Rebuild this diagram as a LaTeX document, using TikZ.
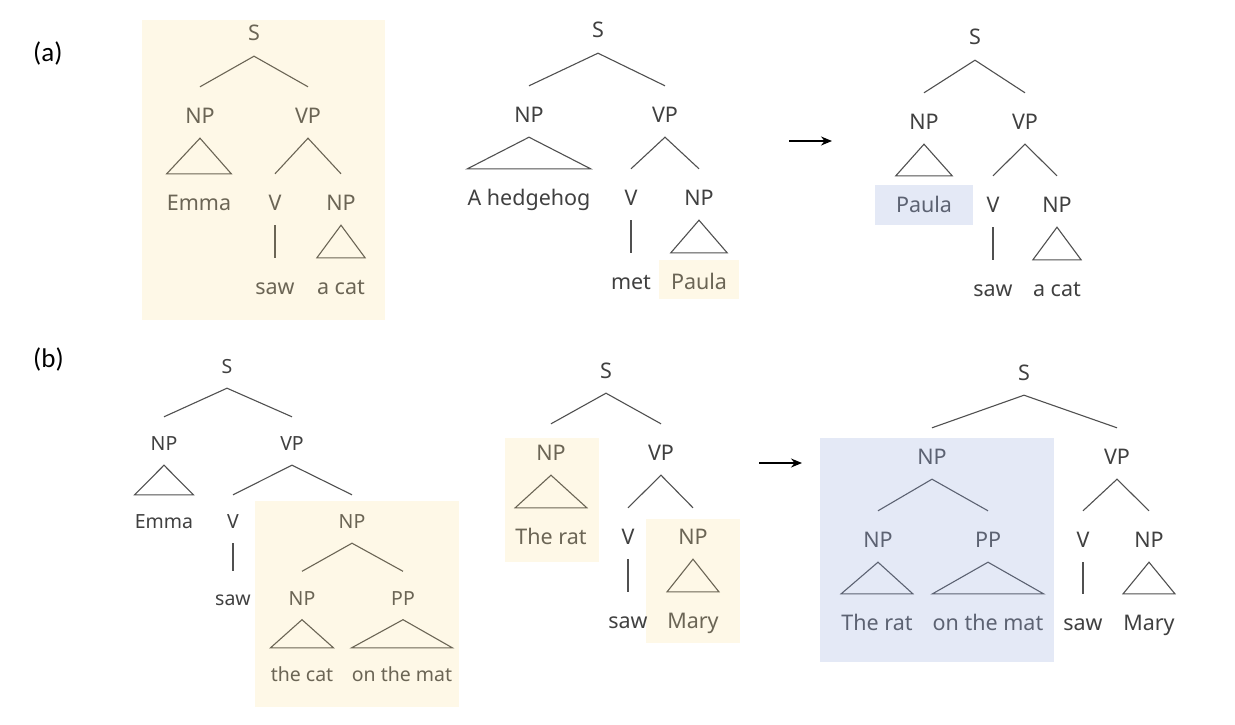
\documentclass[tikz,border=0pt]{standalone}
\usepackage{fontspec}
\setmainfont{Noto Sans}
\newfontfamily\labfont{Carlito}
\usetikzlibrary{arrows.meta}
\definecolor{txt}{HTML}{404040}
\definecolor{ln}{HTML}{505050}
\definecolor{ty}{HTML}{6B6555}
\definecolor{tb}{HTML}{5C6272}
\definecolor{yel}{HTML}{FEF8E7}
\definecolor{blu}{HTML}{E4E9F6}
\tikzset{
  la/.style={font=\fontsize{21.5}{21.5}\selectfont, text=txt, inner sep=0pt, text height=36pt, text depth=15pt, anchor=base},
  lb/.style={font=\fontsize{19.5}{19.5}\selectfont, text=txt, inner sep=0pt, text height=33.5pt, text depth=14.5pt, anchor=base},
  br/.style={draw=ln, line width=1.1pt, line join=miter},
  inY/.style={text=ty},
  inB/.style={text=tb},
  brY/.style={br, draw=ty},
  brB/.style={br, draw=tb},
  arr/.style={draw=black, line width=1.2pt, -{Stealth[length=11pt,width=9pt]}},
  panel/.style={font=\labfont\fontsize{27}{27}\selectfont, text=black, inner sep=0pt, anchor=base west}
}
\begin{document}
\begin{tikzpicture}[x=1pt,y=-1pt]
\useasboundingbox (0,0) rectangle (1235,725);
\fill[white] (0,0) rectangle (1235,725);

% highlight boxes
\fill[yel] (142,20) rectangle (385,320);
\fill[yel] (659,260) rectangle (739,299);
\fill[blu] (875,185) rectangle (973,225);
\fill[yel] (255,501) rectangle (459,707);
\fill[yel] (505,438) rectangle (599,562);
\fill[yel] (646,519) rectangle (740,643);
\fill[blu] (820,438) rectangle (1054,662);

% panel labels
\node[panel] (pa) at (33,62) {(a)};
\node[panel] (pb) at (33,367) {(b)};

% ---------- (a) tree 1 ----------
\node[la,inY] (a1S) at (254,41) {S};
\node[la,inY] (a1NP) at (200,123) {NP};
\node[la,inY] (a1VP) at (308,123) {VP};
\node[la,inY] (a1Emma) at (199,210) {Emma};
\node[la,inY] (a1V) at (275,210) {V};
\node[la,inY] (a1NPb) at (341,210) {NP};
\node[la,inY] (a1saw) at (275,294) {saw};
\node[la,inY] (a1cat) at (341,294) {a cat};
\draw[brY] (a1NP.north) -- (a1S.south) -- (a1VP.north);
\draw[brY] (a1Emma.north west) -- (a1NP.south) -- (a1Emma.north east) -- cycle;
\draw[brY] (a1V.north) -- (a1VP.south) -- (a1NPb.north);
\draw[brY] (a1V.south) -- (a1saw.north);
\draw[brY] (a1cat.north west) -- (a1NPb.south) -- (a1cat.north east) -- cycle;

% ---------- (a) tree 2 ----------
\node[la] (a2S) at (598,38) {S};
\node[la] (a2NP) at (529,122) {NP};
\node[la] (a2VP) at (665,122) {VP};
\node[la] (a2hh) at (529,205) {A hedgehog};
\node[la] (a2V) at (631,205) {V};
\node[la] (a2NPb) at (699,205) {NP};
\node[la] (a2met) at (631,289) {met};
\node[la,inY] (a2Paula) at (699,289) {Paula};
\draw[br] (a2NP.north) -- (a2S.south) -- (a2VP.north);
\draw[br] (a2hh.north west) -- (a2NP.south) -- (a2hh.north east) -- cycle;
\draw[br] (a2V.north) -- (a2VP.south) -- (a2NPb.north);
\draw[br] (a2V.south) -- (a2met.north);
\draw[br] (a2Paula.north west) -- (a2NPb.south) -- (a2Paula.north east) -- cycle;

% arrow (a)
\coordinate (arA1) at (789,141);
\coordinate (arA2) at (832,141);
\draw[arr] (arA1) -- (arA2);

% ---------- (a) tree 3 ----------
\node[la] (a3S) at (975,45) {S};
\node[la] (a3NP) at (924,129) {NP};
\node[la] (a3VP) at (1025,129) {VP};
\node[la,inB] (a3Paula) at (924,212) {Paula};
\node[la] (a3V) at (993,212) {V};
\node[la] (a3NPb) at (1057,212) {NP};
\node[la] (a3saw) at (993,296) {saw};
\node[la] (a3cat) at (1057,296) {a cat};
\draw[br] (a3NP.north) -- (a3S.south) -- (a3VP.north);
\draw[br] (a3Paula.north west) -- (a3NP.south) -- (a3Paula.north east) -- cycle;
\draw[br] (a3V.north) -- (a3VP.south) -- (a3NPb.north);
\draw[br] (a3V.south) -- (a3saw.north);
\draw[br] (a3cat.north west) -- (a3NPb.south) -- (a3cat.north east) -- cycle;

% ---------- (b) tree 1 ----------
\node[lb] (b1S) at (227,373.5) {S};
\node[lb] (b1NP) at (164,450.5) {NP};
\node[lb] (b1VP) at (292,450.5) {VP};
\node[lb] (b1Emma) at (164,528.5) {Emma};
\node[lb] (b1V) at (233,528.5) {V};
\node[lb,inY] (b1NPb) at (352,528.5) {NP};
\node[lb] (b1saw) at (233,605) {saw};
\node[lb,inY] (b1NPc) at (302,605) {NP};
\node[lb,inY] (b1PP) at (403,605) {PP};
\node[lb,inY] (b1cat) at (302,681.5) {the cat};
\node[lb,inY] (b1mat) at (402,681.5) {on the mat};
\draw[br] (b1NP.north) -- (b1S.south) -- (b1VP.north);
\draw[br] (b1Emma.north west) -- (b1NP.south) -- (b1Emma.north east) -- cycle;
\draw[br] (b1V.north) -- (b1VP.south) -- (b1NPb.north);
\draw[br] (b1V.south) -- (b1saw.north);
\draw[brY] (b1NPc.north) -- (b1NPb.south) -- (b1PP.north);
\draw[brY] (b1cat.north west) -- (b1NPc.south) -- (b1cat.north east) -- cycle;
\draw[brY] (b1mat.north west) -- (b1PP.south) -- (b1mat.north east) -- cycle;

% ---------- (b) tree 2 ----------
\node[la] (b2S) at (606,378) {S};
\node[la,inY] (b2NP) at (551,460) {NP};
\node[la] (b2VP) at (661,460) {VP};
\node[la,inY] (b2rat) at (551,544) {The rat};
\node[la] (b2V) at (628,544) {V};
\node[la,inY] (b2NPb) at (693,544) {NP};
\node[la] (b2saw) at (628,628) {saw};
\node[la,inY] (b2Mary) at (693,628) {Mary};
\draw[br] (b2NP.north) -- (b2S.south) -- (b2VP.north);
\draw[brY] (b2rat.north west) -- (b2NP.south) -- (b2rat.north east) -- cycle;
\draw[br] (b2V.north) -- (b2VP.south) -- (b2NPb.north);
\draw[br] (b2V.south) -- (b2saw.north);
\draw[brY] (b2Mary.north west) -- (b2NPb.south) -- (b2Mary.north east) -- cycle;

% arrow (b)
\coordinate (arB1) at (759,463);
\coordinate (arB2) at (802,463);
\draw[arr] (arB1) -- (arB2);

% ---------- (b) tree 3 ----------
\node[la] (b3S) at (1024,380) {S};
\node[la,inB] (b3NP) at (932,464) {NP};
\node[la] (b3VP) at (1117,464) {VP};
\node[la,inB] (b3NPb) at (878,547) {NP};
\node[la,inB] (b3PP) at (988,547) {PP};
\node[la] (b3V) at (1083,547) {V};
\node[la] (b3NPc) at (1149,547) {NP};
\node[la,inB] (b3rat) at (877,630) {The rat};
\node[la,inB] (b3mat) at (988,630) {on the mat};
\node[la] (b3saw) at (1083,630) {saw};
\node[la] (b3Mary) at (1149,630) {Mary};
\draw[br] (b3NP.north) -- (b3S.south) -- (b3VP.north);
\draw[brB] (b3NPb.north) -- (b3NP.south) -- (b3PP.north);
\draw[brB] (b3rat.north west) -- (b3NPb.south) -- (b3rat.north east) -- cycle;
\draw[brB] (b3mat.north west) -- (b3PP.south) -- (b3mat.north east) -- cycle;
\draw[br] (b3V.north) -- (b3VP.south) -- (b3NPc.north);
\draw[br] (b3V.south) -- (b3saw.north);
\draw[br] (b3Mary.north west) -- (b3NPc.south) -- (b3Mary.north east) -- cycle;
\end{tikzpicture}
\end{document}
